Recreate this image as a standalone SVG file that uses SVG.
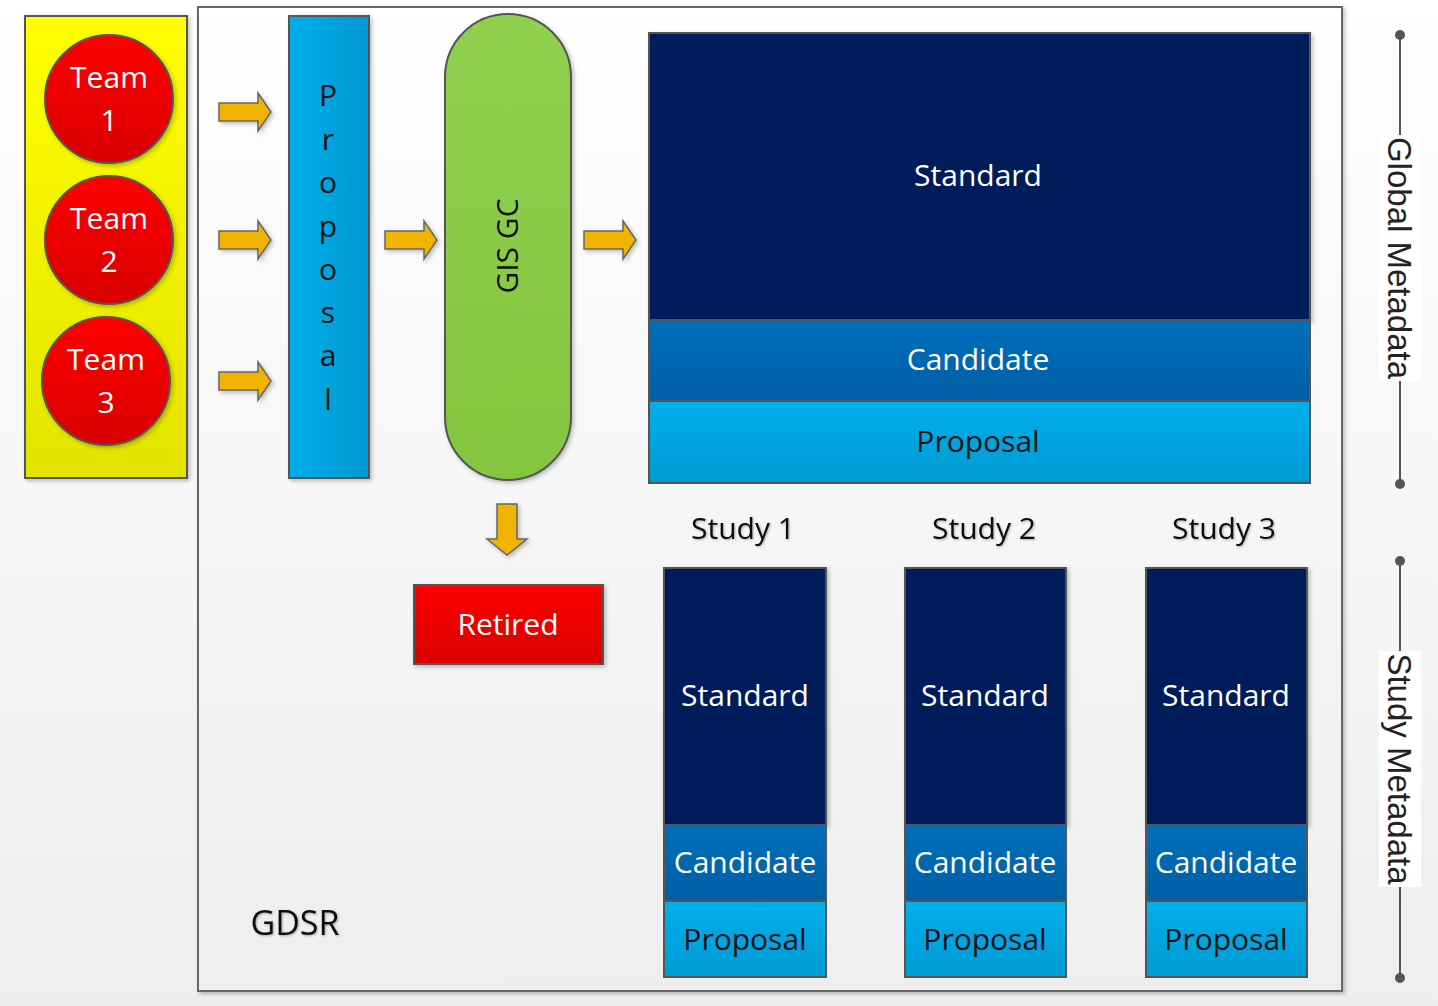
<svg xmlns="http://www.w3.org/2000/svg" width="1438" height="1006" viewBox="0 0 1438 1006">
<defs>
<linearGradient id="bg" x1="0" y1="0" x2="0" y2="1"><stop offset="0" stop-color="#ffffff"/><stop offset="1" stop-color="#eeeeee"/></linearGradient>
<linearGradient id="yel" x1="0" y1="0" x2="0" y2="1"><stop offset="0" stop-color="#ffff00"/><stop offset="1" stop-color="#e3e300"/></linearGradient>
<linearGradient id="red" x1="0" y1="0" x2="0" y2="1"><stop offset="0" stop-color="#ff0000"/><stop offset="1" stop-color="#d80000"/></linearGradient>
<linearGradient id="cyan" x1="0" y1="0" x2="1" y2="0"><stop offset="0" stop-color="#00aeea"/><stop offset="1" stop-color="#0098d2"/></linearGradient>
<linearGradient id="cyanv" x1="0" y1="0" x2="0" y2="1"><stop offset="0" stop-color="#00b0ec"/><stop offset="1" stop-color="#009ad4"/></linearGradient>
<linearGradient id="mid" x1="0" y1="0" x2="0" y2="1"><stop offset="0" stop-color="#0070bc"/><stop offset="1" stop-color="#005ea4"/></linearGradient>
<linearGradient id="grn" x1="0" y1="0" x2="0" y2="1"><stop offset="0" stop-color="#8fd14f"/><stop offset="1" stop-color="#84c63e"/></linearGradient>
<filter id="sh" x="-10%" y="-10%" width="130%" height="130%"><feDropShadow dx="2" dy="2" stdDeviation="2" flood-color="#000" flood-opacity="0.25"/></filter>
<filter id="ts" x="-10%" y="-10%" width="130%" height="130%"><feDropShadow dx="1" dy="1" stdDeviation="1" flood-color="#000" flood-opacity="0.3"/></filter>
<path id="rarrow" d="M0,-9 H39 V-19 L52,0 L39,19 V9 H0 Z"/>
</defs>
<style>
.box{stroke:#555;stroke-width:2}
.arr{fill:#f0b400;stroke:#666;stroke-width:1.5}
.t{font-family:"Open Sans",Lato,sans-serif;font-size:30px;text-anchor:middle}
.big{font-size:34px}
.w{fill:#fff}
.k{fill:#111}
.side{font-family:"Liberation Sans",Arial,sans-serif;font-size:33px;text-anchor:middle;fill:#222}
.ln{stroke:#555;stroke-width:2}
</style>
<rect x="0" y="0" width="1438" height="1006" fill="url(#bg)"/>

<g id="gdsr">
<rect x="198" y="7" width="1144" height="984" fill="url(#bg)" stroke="#666" stroke-width="2" filter="url(#sh)"/>
<text class="t k big" x="295" y="935" filter="url(#ts)">GDSR</text>
</g>

<g id="teams">
<rect class="box" x="25" y="16" width="162" height="462" fill="url(#yel)" filter="url(#sh)"/>
<g id="team1"><circle class="box" cx="109" cy="99" r="64" fill="url(#red)" filter="url(#sh)"/><text class="t w" x="109" y="88">Team</text><text class="t w" x="109" y="131">1</text></g>
<g id="team2"><circle class="box" cx="109" cy="240" r="64" fill="url(#red)" filter="url(#sh)"/><text class="t w" x="109" y="229">Team</text><text class="t w" x="109" y="272">2</text></g>
<g id="team3"><circle class="box" cx="106" cy="381" r="64" fill="url(#red)" filter="url(#sh)"/><text class="t w" x="106" y="370">Team</text><text class="t w" x="106" y="413">3</text></g>
</g>

<g id="proposal">
<rect class="box" x="289" y="16" width="80" height="462" fill="url(#cyan)" filter="url(#sh)"/>
<g class="t k">
<text x="328" y="106">P</text><text x="328" y="150">r</text><text x="328" y="193">o</text><text x="328" y="237">p</text><text x="328" y="280">o</text><text x="328" y="323">s</text><text x="328" y="366">a</text><text x="328" y="410">l</text>
</g>
</g>

<g id="gisgc">
<rect class="box" x="445" y="14" width="126" height="466" rx="63" ry="63" fill="url(#grn)" filter="url(#sh)"/>
<text class="t k" transform="translate(518,246) rotate(-90)">GIS GC</text>
</g>

<g id="retired">
<rect class="box" x="414" y="585" width="189" height="79" fill="url(#red)" filter="url(#sh)"/>
<text class="t w" x="508" y="635">Retired</text>
</g>

<g id="global">
<rect class="box" x="649" y="33" width="661" height="287" fill="#001c5a" filter="url(#sh)"/>
<rect class="box" x="649" y="320" width="661" height="81" fill="url(#mid)"/>
<rect class="box" x="649" y="401" width="661" height="82" fill="url(#cyanv)"/>
<text class="t w" x="978" y="186">Standard</text>
<text class="t w" x="978" y="370">Candidate</text>
<text class="t k" x="978" y="452">Proposal</text>
</g>

<g id="study1">
<text class="t k" x="743" y="539" filter="url(#ts)">Study 1</text>
<rect class="box" x="664" y="568" width="162" height="257" fill="#001c5a" filter="url(#sh)"/>
<rect class="box" x="664" y="825" width="162" height="76" fill="url(#mid)"/>
<rect class="box" x="664" y="901" width="162" height="76" fill="url(#cyanv)"/>
<text class="t w" x="745" y="706">Standard</text>
<text class="t w" x="745" y="873">Candidate</text>
<text class="t k" x="745" y="950">Proposal</text>
</g>
<g id="study2">
<text class="t k" x="984" y="539" filter="url(#ts)">Study 2</text>
<rect class="box" x="905" y="568" width="161" height="257" fill="#001c5a" filter="url(#sh)"/>
<rect class="box" x="905" y="825" width="161" height="76" fill="url(#mid)"/>
<rect class="box" x="905" y="901" width="161" height="76" fill="url(#cyanv)"/>
<text class="t w" x="985" y="706">Standard</text>
<text class="t w" x="985" y="873">Candidate</text>
<text class="t k" x="985" y="950">Proposal</text>
</g>
<g id="study3">
<text class="t k" x="1224" y="539" filter="url(#ts)">Study 3</text>
<rect class="box" x="1146" y="568" width="161" height="257" fill="#001c5a" filter="url(#sh)"/>
<rect class="box" x="1146" y="825" width="161" height="76" fill="url(#mid)"/>
<rect class="box" x="1146" y="901" width="161" height="76" fill="url(#cyanv)"/>
<text class="t w" x="1226" y="706">Standard</text>
<text class="t w" x="1226" y="873">Candidate</text>
<text class="t k" x="1226" y="950">Proposal</text>
</g>

<g id="global-metadata">
<line class="ln" x1="1400" y1="35" x2="1400" y2="484"/>
<circle cx="1400" cy="35" r="5" fill="#555"/><circle cx="1400" cy="484" r="5" fill="#555"/>
<rect x="1379" y="135" width="42" height="246" fill="#fff"/>
<text class="side" transform="translate(1388,258) rotate(90)">Global Metadata</text>
</g>
<g id="study-metadata">
<line class="ln" x1="1400" y1="561" x2="1400" y2="978"/>
<circle cx="1400" cy="561" r="5" fill="#555"/><circle cx="1400" cy="978" r="5" fill="#555"/>
<rect x="1379" y="651" width="42" height="236" fill="#fff"/>
<text class="side" transform="translate(1388,769) rotate(90)">Study Metadata</text>
</g>

<g id="connectors">
<use href="#rarrow" class="arr" x="219" y="112" filter="url(#sh)"/>
<use href="#rarrow" class="arr" x="219" y="240" filter="url(#sh)"/>
<use href="#rarrow" class="arr" x="219" y="381" filter="url(#sh)"/>
<use href="#rarrow" class="arr" x="385" y="240" filter="url(#sh)"/>
<use href="#rarrow" class="arr" x="584" y="240" filter="url(#sh)"/>
<path class="arr" d="M497,504 H517 V539 H527 L507,555 L487,539 H497 Z" filter="url(#sh)"/>
</g>
</svg>
